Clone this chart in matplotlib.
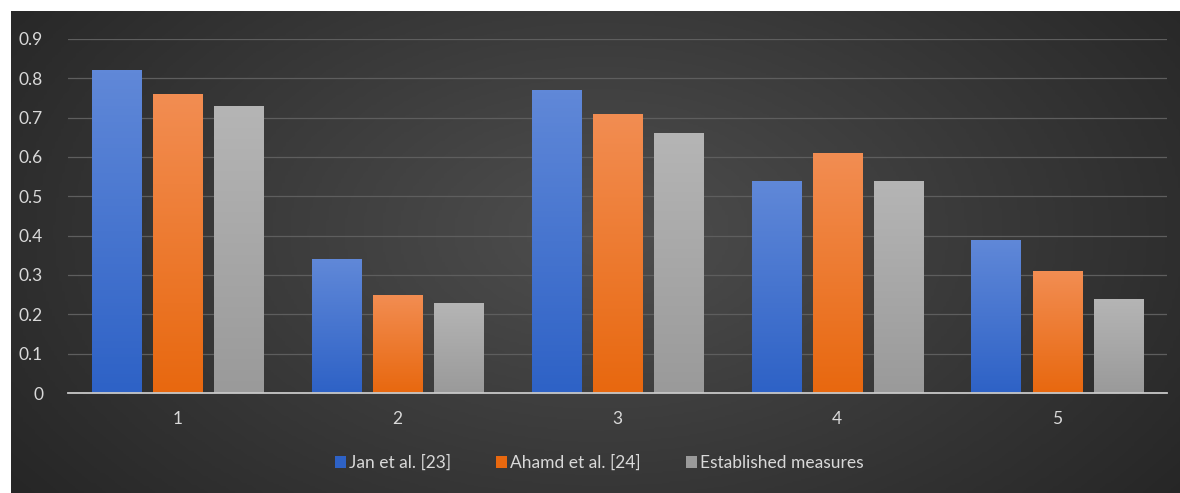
import numpy as np
import matplotlib.pyplot as plt
import matplotlib.colors as mcolors
from matplotlib.patches import Patch

plt.rcParams['font.family'] = ['Lato', 'DejaVu Sans']

categories = ['1', '2', '3', '4', '5']
series = ['Jan et al. [23]', 'Ahamd et al. [24]', 'Established measures']
jan = [0.82, 0.34, 0.77, 0.54, 0.39]
ahamd = [0.76, 0.25, 0.71, 0.61, 0.31]
established = [0.73, 0.23, 0.66, 0.54, 0.24]

# (top colour, bottom colour) for each series
GRAD = [('#6088d8', '#2e62c6'),
        ('#f28d52', '#e8680f'),
        ('#b5b5b5', '#9a9a9a')]
TXT = '#d9d9d9'

fig = plt.figure(figsize=(11.8, 4.93), dpi=100)
fig.patch.set_facecolor('white')

# dark panel with a soft radial gradient, runs off the right and bottom edges
bg = fig.add_axes([11 / 1180, -0.02, 1.0, 1 - 11 / 493 + 0.02], zorder=0)
yy, xx = np.mgrid[0:1:200j, 0:1:400j]
r = np.sqrt(((xx - 0.5) / 0.62) ** 2 + ((yy - 0.45) / 0.9) ** 2)
r = np.clip(r, 0, 1)
cmap_bg = mcolors.LinearSegmentedColormap.from_list('bg', ['#4e4e4e', '#262626'])
bg.imshow(r, cmap=cmap_bg, aspect='auto', extent=[0, 1, 0, 1], vmin=0, vmax=1)
bg.set_xlim(0, 1)
bg.set_ylim(0, 1)
bg.set_axis_off()

ax = fig.add_axes([68 / 1180, 1 - 393 / 493, (1167 - 68) / 1180, (393 - 39) / 493], zorder=1)
ax.patch.set_alpha(0)

x = np.arange(len(categories))
w = 0.223
step = 0.278
data = [jan, ahamd, established]

grad = np.linspace(1, 0, 100).reshape(-1, 1)
for i, vals in enumerate(data):
    bars = ax.bar(x + (i - 1) * step, vals, w, color=GRAD[i][1], zorder=3, label=series[i])
    cm = mcolors.LinearSegmentedColormap.from_list('g%d' % i, [GRAD[i][1], GRAD[i][0]])
    for b in bars:
        x0, y0 = b.get_x(), b.get_y()
        im = ax.imshow(grad, cmap=cm, aspect='auto', zorder=4,
                       extent=[x0, x0 + b.get_width(), y0, y0 + b.get_height()])
        im.set_clip_path(b)

ax.set_xlim(-0.5, 4.5)
ax.set_ylim(0, 0.9)
ax.set_yticks(np.arange(0, 0.91, 0.1))
ax.set_yticklabels(['0'] + ['%.1f' % v for v in np.arange(0.1, 0.91, 0.1)])
ax.set_xticks(x)
ax.set_xticklabels(categories)
ax.tick_params(axis='both', length=0, colors=TXT, labelsize=12.5)
ax.tick_params(axis='x', pad=13)
ax.tick_params(axis='y', pad=18)

ax.grid(axis='y', color='#5e5e5e', linewidth=0.9, zorder=0)
for s in ['top', 'right', 'left']:
    ax.spines[s].set_visible(False)
ax.spines['bottom'].set_color('#c8c8c8')
ax.spines['bottom'].set_linewidth(1.3)
ax.spines['bottom'].set_zorder(5)

handles = [Patch(facecolor=GRAD[i][1]) for i in range(3)]
leg = fig.legend(handles, series, loc='center', bbox_to_anchor=(0.508, 1 - 463 / 493),
                 ncol=3, frameon=False, fontsize=12.5, handlelength=0.6, handleheight=0.6,
                 handletextpad=0.2, columnspacing=2.6)
for t in leg.get_texts():
    t.set_color(TXT)

fig.savefig('out.png', dpi=100)
